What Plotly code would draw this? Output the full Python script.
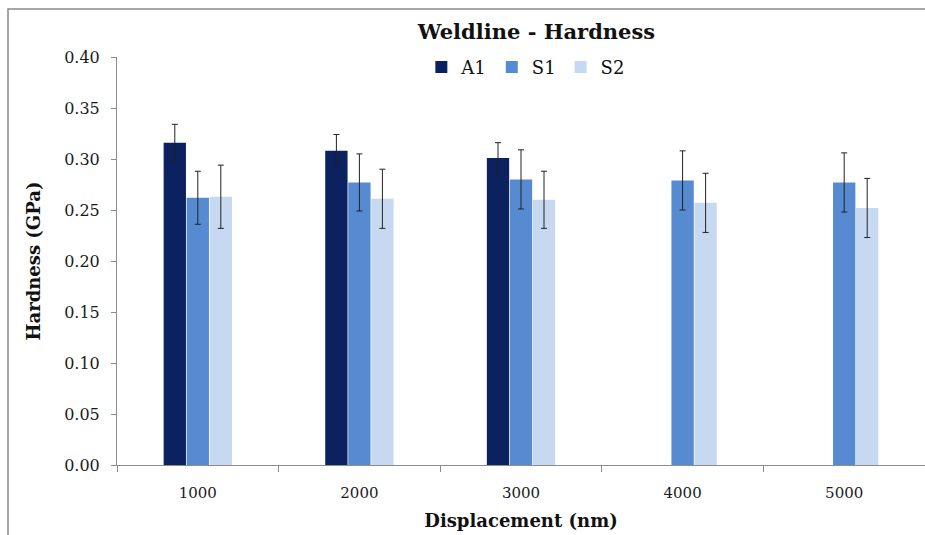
import plotly.graph_objects as go

# Nanoindentation hardness along the weldline
displacement = ["1000", "2000", "3000", "4000", "5000"]

a1_hardness = [0.316, 0.308, 0.301, None, None]
a1_error = [0.018, 0.016, 0.015, None, None]

s1_hardness = [0.262, 0.277, 0.280, 0.279, 0.277]
s1_error = [0.026, 0.028, 0.029, 0.029, 0.029]

s2_hardness = [0.263, 0.261, 0.260, 0.257, 0.252]
s2_error = [0.031, 0.029, 0.028, 0.029, 0.029]

series = [
    ("A1", a1_hardness, a1_error, "#0b2160"),
    ("S1", s1_hardness, s1_error, "#568bd1"),
    ("S2", s2_hardness, s2_error, "#c6d9f1"),
]

serif = "DejaVu Serif, Liberation Serif, serif"

fig = go.Figure()
for name, vals, errs, color in series:
    fig.add_trace(go.Bar(
        name=name,
        x=displacement,
        y=vals,
        marker=dict(color=color, line=dict(width=0)),
        error_y=dict(type="data", array=errs, visible=True,
                     color="#222222", thickness=1, width=3),
    ))

fig.update_layout(
    width=925, height=535,
    margin=dict(l=117, r=0, t=57, b=70),
    paper_bgcolor="white", plot_bgcolor="white",
    barmode="group", bargap=0.573, bargroupgap=0.03,
    title=dict(text="<b>Weldline - Hardness</b>", x=0.58, xanchor="center",
               y=0.94, yanchor="middle",
               font=dict(family=serif, size=21, color="#111111")),
    legend=dict(orientation="h", x=0.506, xanchor="center", y=0.975,
                yanchor="middle", font=dict(family=serif, size=18, color="#111111"),
                itemwidth=30, tracegroupgap=0, bgcolor="rgba(0,0,0,0)"),
    font=dict(family=serif, color="#222222"),
    showlegend=True,
)

fig.update_xaxes(
    title=dict(text="<b>Displacement (nm)</b>", font=dict(family=serif, size=18, color="#111111"),
               standoff=13),
    showline=True, linecolor="#8c8c8c", linewidth=1,
    ticks="outside", tickson="boundaries", ticklen=6, tickcolor="#8c8c8c",
    ticklabelstandoff=14,
    tickfont=dict(family=serif, size=15, color="#1a1a1a"),
    showgrid=False,
)
fig.update_yaxes(
    title=dict(text="<b>Hardness (GPa)</b>", font=dict(family=serif, size=18, color="#111111"),
               standoff=18),
    range=[0, 0.40], dtick=0.05, tickformat=".2f",
    showline=True, linecolor="#8c8c8c", linewidth=1,
    ticks="outside", ticklen=5, tickcolor="#8c8c8c",
    ticklabelstandoff=8,
    tickfont=dict(family=serif, size=16, color="#1a1a1a"),
    showgrid=False, zeroline=False,
)

# outer chart frame (left and top edges)
fig.add_shape(type="path", xref="paper", yref="paper",
              path="M -0.1349 -0.18 L -0.1349 1.1176 L 1.01 1.1176",
              line=dict(color="#8a8a8a", width=1.5), layer="above")

fig.write_html("out.html")
